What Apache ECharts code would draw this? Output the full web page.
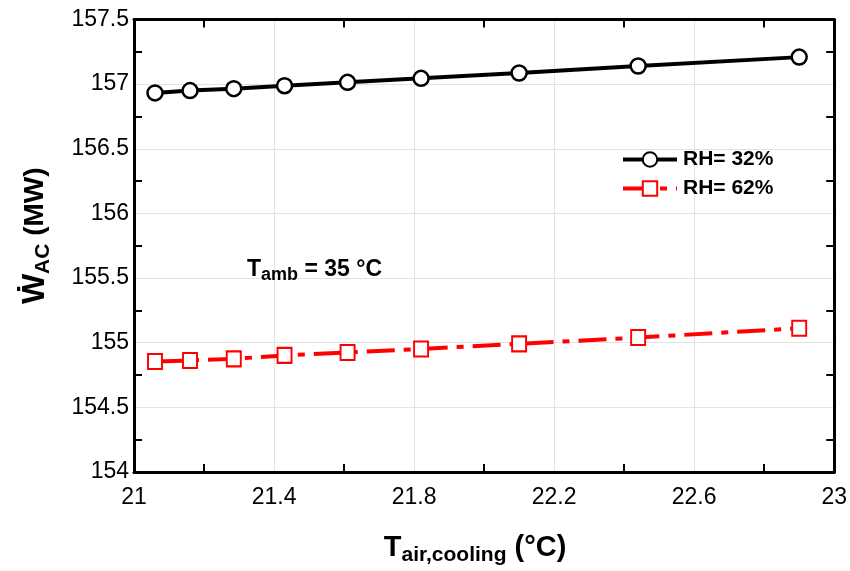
<!DOCTYPE html>
<html>
<head>
<meta charset="utf-8">
<script src="https://cdn.jsdelivr.net/npm/echarts@6/dist/echarts.min.js"></script>
<style>html,body{margin:0;padding:0;background:#fff}#c{width:850px;height:571px}</style>
</head>
<body>
<div id="c"></div>
<script>
var tempValues = [21.06, 21.16, 21.285, 21.43, 21.61, 21.82, 22.1, 22.44, 22.9];
var rh32Values = [156.932, 156.950, 156.965, 156.988, 157.014, 157.045, 157.086, 157.140, 157.209];
var rh62Values = [154.855, 154.863, 154.875, 154.902, 154.925, 154.952, 154.991, 155.040, 155.112];
var seriesNames = ['RH= 32%', 'RH= 62%'];
var xRange = [21, 23, 0.4];
var yRange = [154, 157.5, 0.5];

var FONT = 'Liberation Sans, Arial, sans-serif';
function pairs(xs, ys) { return xs.map(function (x, i) { return [x, ys[i]]; }); }

var chart = echarts.init(document.getElementById('c'), null, {renderer: 'canvas'});
var frameAxis = {
  axisLine: {show: true, onZero: false, lineStyle: {color: '#000', width: 3}},
  axisTick: {show: false, inside: true},
  minorTick: {show: true, splitNumber: 2, length: 8, lineStyle: {color: '#000', width: 2}},
  splitLine: {show: false},
  axisLabel: {show: false}
};
chart.setOption({
  animation: false,
  backgroundColor: '#fff',
  grid: {left: 134, right: 15, top: 19.5, bottom: 96.5, containLabel: false},
  xAxis: [
    {
      type: 'value', min: xRange[0], max: xRange[1], interval: xRange[2], position: 'bottom',
      axisLine: {show: true, onZero: false, lineStyle: {color: '#000', width: 3}},
      axisTick: {show: false, inside: true},
      minorTick: {show: true, splitNumber: 2, length: 8, lineStyle: {color: '#000', width: 2}},
      splitLine: {show: true, lineStyle: {color: '#e2e2e2', width: 1}},
      axisLabel: {color: '#000', fontSize: 23, fontFamily: FONT, margin: 14,
        formatter: function (v) { return String(Math.round(v * 10) / 10); }},
      name: '{t|T}{s|air,cooling}{t| (°C)}',
      nameLocation: 'middle', nameGap: 58,
      nameTextStyle: {
        padding: [0, 18, 0, 0],
        rich: {
          t: {fontSize: 29, fontWeight: 'bold', fontFamily: FONT, color: '#000', lineHeight: 36},
          s: {fontSize: 21, fontWeight: 'bold', fontFamily: FONT, color: '#000', verticalAlign: 'bottom', lineHeight: 36, padding: [14, 0, 0, 0]}
        }
      }
    },
    Object.assign({type: 'value', min: xRange[0], max: xRange[1], interval: xRange[2], position: 'top'}, frameAxis)
  ],
  yAxis: [
    {
      type: 'value', min: yRange[0], max: yRange[1], interval: yRange[2], position: 'left',
      axisLine: {show: true, onZero: false, lineStyle: {color: '#000', width: 3}},
      axisTick: {show: false, inside: true},
      minorTick: {show: true, splitNumber: 2, length: 8, lineStyle: {color: '#000', width: 2}},
      splitLine: {show: true, lineStyle: {color: '#e2e2e2', width: 1}},
      axisLabel: {color: '#000', fontSize: 23, fontFamily: FONT, margin: 5},
      name: '{w|Ẇ}{s|AC}{t| (MW)}',
      nameLocation: 'middle', nameGap: 80, nameRotate: 90,
      nameTextStyle: {
        padding: [0, 0, 0, 20],
        rich: {
          w: {fontSize: 32, fontWeight: 'bold', fontFamily: FONT, color: '#000', lineHeight: 38},
          t: {fontSize: 28, fontWeight: 'bold', fontFamily: FONT, color: '#000', lineHeight: 38},
          s: {fontSize: 21, fontWeight: 'bold', fontFamily: FONT, color: '#000', verticalAlign: 'bottom', lineHeight: 38, padding: [14, 0, 0, 0]}
        }
      }
    },
    Object.assign({type: 'value', min: yRange[0], max: yRange[1], interval: yRange[2], position: 'right'}, frameAxis)
  ],
  legend: {
    left: 616, top: 144, orient: 'vertical', itemGap: 8,
    itemWidth: 54, itemHeight: 18,
    lineStyle: {width: 4},
    textStyle: {fontSize: 21, fontWeight: 'bold', fontFamily: FONT, color: '#000', padding: [0, 0, 0, 1]},
    data: seriesNames
  },
  graphic: [{
    type: 'text', left: 247, top: 255, z: 100,
    style: {
      text: '{t|T}{s|amb}{t| = 35 °C}',
      rich: {
        t: {fontSize: 23, fontWeight: 'bold', fontFamily: FONT, fill: '#000', lineHeight: 28},
        s: {fontSize: 18, fontWeight: 'bold', fontFamily: FONT, fill: '#000', verticalAlign: 'bottom', lineHeight: 28, padding: [11, 0, 0, 0]}
      }
    }
  }],
  series: [
    {
      name: seriesNames[0], type: 'line', data: pairs(tempValues, rh32Values),
      symbol: 'circle', symbolSize: 15, showAllSymbol: true,
      lineStyle: {color: '#000', width: 4},
      itemStyle: {color: '#fff', borderColor: '#000', borderWidth: 2.5}
    },
    {
      name: seriesNames[1], type: 'line', data: pairs(tempValues, rh62Values),
      symbol: 'rect', symbolSize: [14, 15], showAllSymbol: true,
      lineStyle: {color: '#ff0000', width: 4, type: [28, 9, 7, 9]},
      itemStyle: {color: '#fff', borderColor: '#ff0000', borderWidth: 2}
    }
  ]
});
</script>
</body>
</html>
